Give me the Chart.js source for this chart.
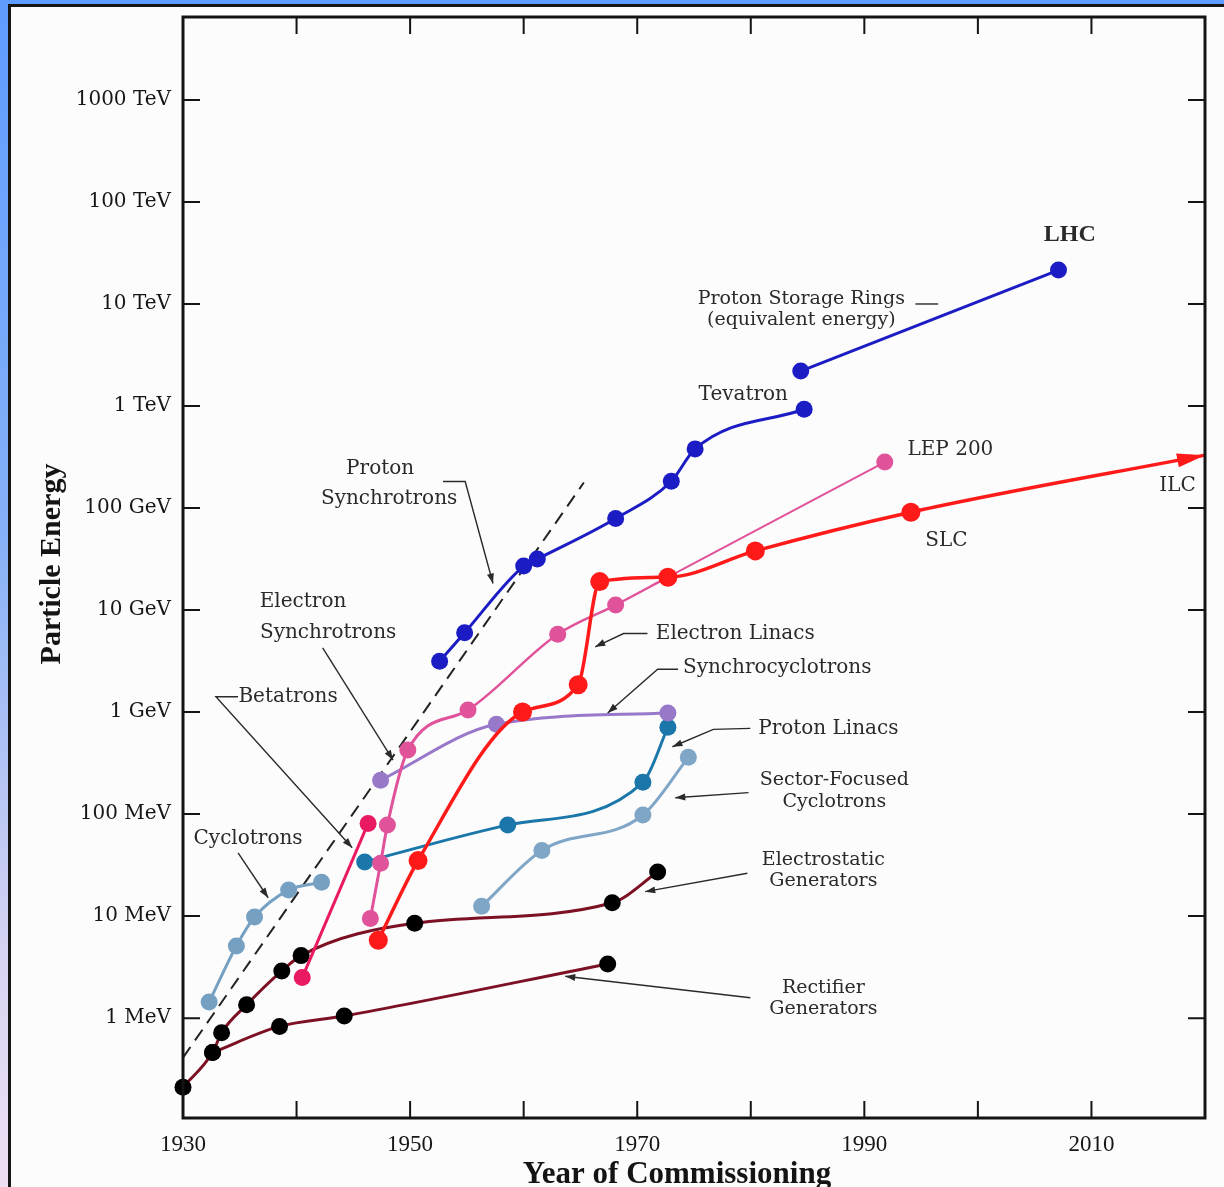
<!DOCTYPE html>
<html>
<head>
<meta charset="utf-8">
<script src="https://cdn.jsdelivr.net/npm/chart.js@4.4.1/dist/chart.umd.min.js"></script>
<style>
  html, body { margin: 0; padding: 0; }
  body {
    width: 1224px; height: 1187px; overflow: hidden; position: relative;
    background: linear-gradient(to bottom, #5e9cff 0%, #86b1f7 45%, #d6d3f2 80%, #eee0f3 100%);
  }
  #panel {
    position: absolute; left: 8px; top: 4px; right: 0; bottom: 0;
    background: #fcfcfd; border-left: 3px solid #151515; border-top: 3px solid #151515;
  }
  #c { position: absolute; left: 0; top: 0; }
</style>
</head>
<body>
<div id="panel"></div>
<canvas id="c" width="1224" height="1187"></canvas>
<script>
// energies in MeV, years of commissioning
const yTickValues = [1, 10, 100, 1e3, 1e4, 1e5, 1e6, 1e7, 1e8, 1e9];
const yTickLabels = ['1 MeV', '10 MeV', '100 MeV', '1 GeV', '10 GeV', '100 GeV', '1 TeV', '10 TeV', '100 TeV', '1000 TeV'];
const xTickLabels = [1930, 1950, 1970, 1990, 2010];
const xTickMarks = [1940, 1950, 1960, 1970, 1980, 1990, 2000, 2010];

const rectifierYears = [1932.6, 1938.5, 1944.2, 1967.4];
const rectifierMeV = [0.46, 0.83, 1.05, 3.4];

const electrostaticYears = [1930.0, 1932.6, 1933.4, 1935.6, 1938.7, 1940.4, 1950.4, 1967.8, 1971.8];
const electrostaticMeV = [0.21, 0.46, 0.72, 1.35, 2.9, 4.1, 8.5, 13.5, 27];

const cyclotronYears = [1932.3, 1934.7, 1936.3, 1939.3, 1942.2];
const cyclotronMeV = [1.44, 5.1, 9.8, 18, 21.5];

const betatronYears = [1940.5, 1946.3];
const betatronMeV = [2.5, 81];

const eSynchYears = [1946.5, 1947.4, 1948.0, 1949.8, 1955.1, 1963.0, 1968.1, 1972.7, 1991.8];
const eSynchMeV = [9.5, 33, 78, 425, 1050, 5800, 11200, 21000, 282000];

const synchrocycYears = [1947.4, 1957.6, 1972.7];
const synchrocycMeV = [215, 760, 980];

const pLinacYears = [1946.0, 1958.6, 1970.5, 1972.7];
const pLinacMeV = [34, 78, 205, 710];

const sectorYears = [1956.3, 1961.6, 1970.5, 1974.5];
const sectorMeV = [12.5, 44, 98, 360];

const eLinacYears = [1947.2, 1950.7, 1959.9, 1964.8, 1966.7, 1972.7, 1980.4, 1994.1, 2020];
const eLinacMeV = [5.8, 35, 1000, 1850, 19000, 21000, 38000, 91000, 330000];

const pSynchYears = [1952.6, 1954.8, 1960.0, 1961.2, 1968.1, 1973.0, 1975.1, 1984.7];
const pSynchMeV = [3150, 6000, 27000, 31600, 79000, 183000, 380000, 930000];

const storageYears = [1984.4, 2007.1];
const storageMeV = [2.2e6, 2.15e7];

const trendYears = [1930, 1965.3];
const trendMeV = [0.41, 178000];

function pts(xs, ys) {
  return xs.map((v, i) => ({ x: v, y: ys[i] }));
}

function series(label, xs, ys, color, dotColor, width) {
  return {
    label: label,
    data: pts(xs, ys),
    borderColor: color,
    backgroundColor: dotColor,
    pointBackgroundColor: dotColor,
    pointBorderWidth: 0,
    pointRadius: 8.5,
    borderWidth: width || 3,
    cubicInterpolationMode: 'monotone',
    clip: false
  };
}

const ePink = '#e0529a';
const datasets = [
  series('Proton Synchrotrons', pSynchYears, pSynchMeV, '#1c1cc4', '#1c1cc4'),
  series('Proton Storage Rings', storageYears, storageMeV, '#1c1cc4', '#1c1cc4'),
  Object.assign(series('Electron Linacs', eLinacYears, eLinacMeV, '#ff1a1a', '#ff1a1a', 3.5), {
    pointRadius: eLinacYears.map((v, i) => i === eLinacYears.length - 1 ? 0 : 9.5)
  }),
  Object.assign(series('Electron Synchrotrons', eSynchYears, eSynchMeV, ePink, ePink), {
    segment: { borderWidth: c => c.p0.parsed.x >= 1972 ? 2 : (c.p0.parsed.x >= 1955 ? 2.5 : 3) }
  }),
  series('Betatrons', betatronYears, betatronMeV, '#ea1a62', '#ea1a62'),
  series('Synchrocyclotrons', synchrocycYears, synchrocycMeV, '#9878c8', '#9878c8'),
  series('Proton Linacs', pLinacYears, pLinacMeV, '#1b77aa', '#1b77aa'),
  series('Sector-Focused Cyclotrons', sectorYears, sectorMeV, '#7fa6c6', '#7fa6c6'),
  series('Cyclotrons', cyclotronYears, cyclotronMeV, '#76a0c2', '#76a0c2'),
  series('Electrostatic Generators', electrostaticYears, electrostaticMeV, '#7d1124', '#000000'),
  series('Rectifier Generators', rectifierYears, rectifierMeV, '#7d1124', '#000000'),
  {
    label: 'trend',
    data: pts(trendYears, trendMeV),
    borderColor: '#222',
    borderWidth: 2,
    borderDash: [13, 8],
    pointRadius: 0,
    clip: false
  }
];

// annotation positions: [year, log10(MeV)]
const notes = [
  { t: ['LHC'], at: [2008.1, 7.68], font: 'bold 24px "Liberation Serif"' },
  { t: ['Proton Storage Rings', '(equivalent energy)'], at: [1984.45, 6.95], font: '19px "DejaVu Serif"', lh: 21 },
  { t: ['Tevatron'], at: [1979.34, 6.11] },
  { t: ['LEP 200'], at: [1997.58, 5.57] },
  { t: ['ILC'], at: [2017.58, 5.22] },
  { t: ['SLC'], at: [1997.22, 4.68] },
  { t: ['Proton'], at: [1947.36, 5.38] },
  { t: ['Synchrotrons'], at: [1948.15, 5.09] },
  { t: ['Electron'], at: [1940.57, 4.08] },
  { t: ['Synchrotrons'], at: [1942.78, 3.78] },
  { t: ['Betatrons'], at: [1939.25, 3.15] },
  { t: ['Cyclotrons'], at: [1935.73, 1.76] },
  { t: ['Electron Linacs'], at: [1978.63, 3.77] },
  { t: ['Synchrocyclotrons'], at: [1982.33, 3.43] },
  { t: ['Proton Linacs'], at: [1986.83, 2.84] },
  { t: ['Sector-Focused', 'Cyclotrons'], at: [1987.36, 2.225], font: '19px "DejaVu Serif"', lh: 22 },
  { t: ['Electrostatic', 'Generators'], at: [1986.39, 1.446], font: '19px "DejaVu Serif"', lh: 21 },
  { t: ['Rectifier', 'Generators'], at: [1986.39, 0.191], font: '19px "DejaVu Serif"', lh: 21 }
];

const leaders = [
  { p: [[1952.9, 5.26], [1954.85, 5.26], [1957.3, 4.26]], arrow: true },
  { p: [[1942.3, 3.63], [1948.5, 2.53]], arrow: true },
  { p: [[1934.85, 3.15], [1932.9, 3.15], [1944.9, 1.67]], arrow: true },
  { p: [[1934.85, 1.62], [1937.5, 1.18]], arrow: true },
  { p: [[1970.9, 3.77], [1968.8, 3.77], [1966.3, 3.64]], arrow: true },
  { p: [[1973.6, 3.42], [1971.8, 3.42], [1967.4, 2.99]], arrow: true },
  { p: [[1979.96, 2.84], [1976.7, 2.83], [1973.1, 2.66]], arrow: true },
  { p: [[1979.8, 2.21], [1973.35, 2.16]], arrow: true },
  { p: [[1979.7, 1.42], [1970.7, 1.24]], arrow: true },
  { p: [[1979.96, 0.20], [1963.66, 0.41]], arrow: true },
  { p: [[1994.5, 7.0], [1996.5, 7.0]], arrow: false }
];

function arrowHead(ctx, x0, y0, x1, y1, len, half) {
  const a = Math.atan2(y1 - y0, x1 - x0);
  ctx.beginPath();
  ctx.moveTo(x1, y1);
  ctx.lineTo(x1 - len * Math.cos(a) + half * Math.sin(a), y1 - len * Math.sin(a) - half * Math.cos(a));
  ctx.lineTo(x1 - len * Math.cos(a) - half * Math.sin(a), y1 - len * Math.sin(a) + half * Math.cos(a));
  ctx.closePath();
  ctx.fill();
}

const decor = {
  id: 'decor',
  afterDatasetsDraw(chart) {
    const { ctx } = chart;
    // ILC arrow head at the end of the electron linac line
    const meta = chart.getDatasetMeta(2).data;
    const n = meta.length;
    ctx.save();
    ctx.fillStyle = '#ff1a1a';
    arrowHead(ctx, meta[n - 2].x, meta[n - 2].y, meta[n - 1].x, meta[n - 1].y, 28, 7);
    ctx.restore();
  },
  afterDraw(chart) {
    const { ctx, chartArea: a, scales: { x, y } } = chart;
    const P = (yr, lg) => [x.getPixelForValue(yr), y.getPixelForValue(Math.pow(10, lg))];
    ctx.save();

    // frame + inward ticks
    ctx.strokeStyle = '#141414';
    ctx.lineWidth = 3;
    ctx.strokeRect(a.left, a.top, a.width, a.height);
    ctx.lineWidth = 2;
    ctx.beginPath();
    xTickMarks.forEach(v => {
      const px = x.getPixelForValue(v);
      ctx.moveTo(px, a.bottom); ctx.lineTo(px, a.bottom - 17);
      ctx.moveTo(px, a.top); ctx.lineTo(px, a.top + 17);
    });
    yTickValues.forEach(v => {
      const py = y.getPixelForValue(v);
      ctx.moveTo(a.left, py); ctx.lineTo(a.left + 17, py);
      ctx.moveTo(a.right, py); ctx.lineTo(a.right - 17, py);
    });
    ctx.stroke();

    // leader lines
    ctx.strokeStyle = '#2a2a2a';
    ctx.fillStyle = '#2a2a2a';
    ctx.lineWidth = 1.4;
    leaders.forEach(l => {
      const q = l.p.map(p => P(p[0], p[1]));
      ctx.beginPath();
      ctx.moveTo(q[0][0], q[0][1]);
      for (let i = 1; i < q.length; i++) ctx.lineTo(q[i][0], q[i][1]);
      ctx.stroke();
      if (l.arrow) {
        const k = q.length - 1;
        arrowHead(ctx, q[k - 1][0], q[k - 1][1], q[k][0], q[k][1], 10, 3.5);
      }
    });

    // labels
    ctx.textAlign = 'center';
    ctx.textBaseline = 'middle';
    notes.forEach(nt => {
      ctx.font = nt.font || '20px "DejaVu Serif"';
      ctx.fillStyle = '#2a2a2a';
      const [cx, cy] = P(nt.at[0], nt.at[1]);
      const lh = nt.lh || 22;
      const y0 = cy - (nt.t.length - 1) * lh / 2;
      nt.t.forEach((s, i) => ctx.fillText(s, cx, y0 + i * lh));
    });

    // axis titles
    ctx.fillStyle = '#141414';
    ctx.font = 'bold 31px "Liberation Serif"';
    ctx.textBaseline = 'alphabetic';
    ctx.fillText('Year of Commissioning', 677, 1183);
    ctx.translate(60, 564);
    ctx.rotate(-Math.PI / 2);
    ctx.font = 'bold 30px "Liberation Serif"';
    ctx.fillText('Particle Energy', 0, 0);
    ctx.restore();
  }
};

new Chart(document.getElementById('c'), {
  type: 'line',
  data: { datasets: datasets },
  plugins: [decor],
  options: {
    responsive: false,
    animation: false,
    events: [],
    layout: { padding: { left: 10, top: 17, right: 19, bottom: 0 } },
    plugins: { legend: { display: false }, tooltip: { enabled: false } },
    scales: {
      x: {
        type: 'linear',
        min: 1930,
        max: 2020,
        grid: { display: false, drawTicks: false },
        border: { display: false },
        afterBuildTicks: s => { s.ticks = xTickLabels.map(v => ({ value: v })); },
        afterFit: s => { s.height = 69; s.paddingLeft = 0; s.paddingRight = 0; },
        ticks: {
          autoSkip: false,
          maxRotation: 0,
          padding: 13,
          color: '#161616',
          font: { family: '"Liberation Serif"', size: 23 },
          callback: v => String(v)
        }
      },
      y: {
        type: 'logarithmic',
        min: 0.105,
        max: 6.5e9,
        bounds: 'data',
        grid: { display: false, drawTicks: false },
        border: { display: false },
        afterBuildTicks: s => { s.ticks = yTickValues.map(v => ({ value: v })); },
        afterFit: s => { s.width = 173; s.paddingTop = 0; s.paddingBottom = 0; },
        ticks: {
          autoSkip: false,
          padding: 12,
          color: '#161616',
          font: { family: '"DejaVu Serif"', size: 20 },
          callback: (v, i) => yTickLabels[i]
        }
      }
    }
  }
});
</script>
</body>
</html>
